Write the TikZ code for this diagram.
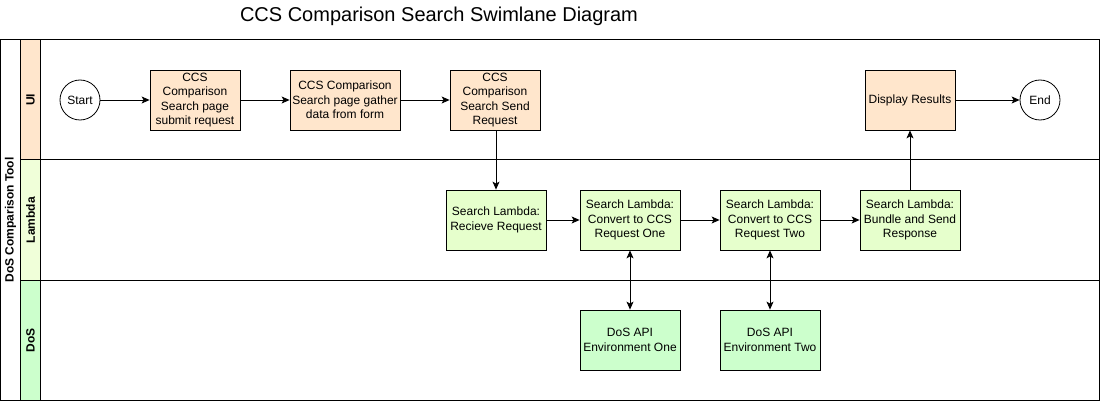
\documentclass[tikz,border=0pt]{standalone}
\usepackage{fontspec}
\setmainfont{Liberation Sans}
\usetikzlibrary{arrows.meta}
\definecolor{uifill}{HTML}{FFE6CC}
\definecolor{lamhead}{HTML}{F0FFD9}
\definecolor{lamfill}{HTML}{E6FFCC}
\definecolor{dosfill}{HTML}{CCFFCC}
\tikzset{
  lane/.style={draw=black, line width=1pt},
  proc/.style={draw=black, line width=0.8pt, rectangle, minimum height=60pt, inner sep=2pt, align=center, font=\fontsize{12}{14.4}\selectfont},
  term/.style={draw=black, line width=0.8pt, circle, minimum size=40pt, inner sep=0pt, fill=white, font=\fontsize{12}{14.4}\selectfont},
  lbl/.style={font=\fontsize{12}{14.4}\selectfont\bfseries, rotate=90},
  flow/.style={line width=0.8pt, -{Stealth[length=8pt,width=7pt,inset=2pt]}},
  bflow/.style={line width=0.8pt, {Stealth[length=8pt,width=7pt,inset=2pt]}-{Stealth[length=8pt,width=7pt,inset=2pt]}}
}
\begin{document}
\begin{tikzpicture}[x=1pt,y=-1pt]
\useasboundingbox (0,0) rectangle (1101,401);
% title
\node[font=\fontsize{20}{24}\selectfont] (title) at (439,16) {CCS Comparison Search Swimlane Diagram};
% pool and lanes
\path[fill=uifill] (20.5,40) rectangle (40.5,160);
\path[fill=lamhead] (20.5,160) rectangle (40.5,280);
\path[fill=dosfill] (20.5,280) rectangle (40.5,400);
\draw[lane] (0.5,40) rectangle (1099.5,400);
\draw[lane] (20.5,40) -- (20.5,400);
\draw[lane] (40.5,40) -- (40.5,400);
\draw[lane] (20.5,160) -- (1099.5,160);
\draw[lane] (20.5,280) -- (1099.5,280);
\node[lbl] (pool) at (10.5,220) {DoS Comparison Tool};
\node[lbl] (laneui) at (30.5,100) {UI};
\node[lbl] (lanelam) at (30.5,220) {Lambda};
\node[lbl] (lanedos) at (30.5,340) {DoS};
% UI lane
\node[term] (start) at (80,100) {Start};
\node[proc, fill=uifill, minimum width=90pt] (b1) at (195,100) {CCS\\Comparison\\Search page\\submit request};
\node[proc, fill=uifill, minimum width=110pt] (b2) at (345,100) {CCS Comparison\\Search page gather\\data from form};
\node[proc, fill=uifill, minimum width=90pt] (b3) at (495,100) {CCS\\Comparison\\Search Send\\Request};
\node[proc, fill=uifill, minimum width=90pt] (disp) at (910,100) {Display Results};
\node[term] (end) at (1040,100) {End};
% Lambda lane
\node[proc, fill=lamfill, minimum width=100pt] (l1) at (496,220) {Search Lambda:\\Recieve Request};
\node[proc, fill=lamfill, minimum width=100pt] (l2) at (630,220) {Search Lambda:\\Convert to CCS\\Request One};
\node[proc, fill=lamfill, minimum width=100pt] (l3) at (770,220) {Search Lambda:\\Convert to CCS\\Request Two};
\node[proc, fill=lamfill, minimum width=100pt] (l4) at (910,220) {Search Lambda:\\Bundle and Send\\Response};
% DoS lane
\node[proc, fill=dosfill, minimum width=100pt] (d1) at (630,340) {DoS API\\Environment One};
\node[proc, fill=dosfill, minimum width=100pt] (d2) at (770,340) {DoS API\\Environment Two};
% connectors
\draw[flow] (start) -- (b1);
\draw[flow] (b1) -- (b2);
\draw[flow] (b2) -- (b3);
\draw[flow] (b3.south -| l1.north) -- (l1.north);
\draw[flow] (l1) -- (l2);
\draw[flow] (l2) -- (l3);
\draw[flow] (l3) -- (l4);
\draw[flow] (l4) -- (disp);
\draw[flow] (disp) -- (end);
\draw[bflow] (l2) -- (d1);
\draw[bflow] (l3) -- (d2);
\end{tikzpicture}
\end{document}
